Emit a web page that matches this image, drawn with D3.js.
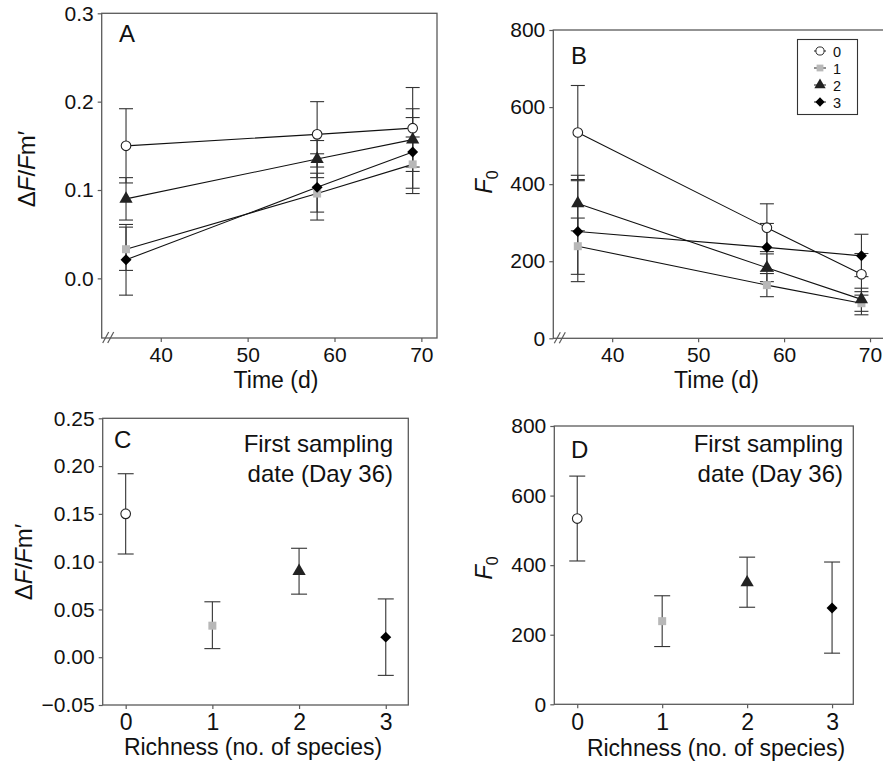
<!DOCTYPE html>
<html>
<head>
<meta charset="utf-8">
<script src="https://cdn.jsdelivr.net/npm/d3@7"></script>
<style>
  body { margin: 0; background: #fff; }
  svg { display: block; font-family: "Liberation Sans", Arial, sans-serif; }
</style>
</head>
<body>
<svg id="chart" width="883" height="768"></svg>
<script>
// sampling days and richness levels (no. of species)
var days = [36, 58, 69];
var richness = [0, 1, 2, 3];

// ΔF/Fm' per richness level, one value per sampling day
var yieldMean = [[0.150, 0.163, 0.170], [0.033, 0.096, 0.129], [0.090, 0.135, 0.157], [0.021, 0.103, 0.143]];
var yieldLo   = [[0.108, 0.126, 0.126], [0.009, 0.075, 0.096], [0.066, 0.114, 0.121], [-0.019, 0.066, 0.102]];
var yieldHi   = [[0.192, 0.200, 0.216], [0.058, 0.119, 0.160], [0.114, 0.156, 0.192], [0.061, 0.141, 0.182]];

// F0 per richness level, one value per sampling day
var f0Mean = [[534, 287, 166], [239, 138, 91], [350, 183, 101], [277, 236, 214]];
var f0Lo   = [[412, 225, 112], [166, 108, 61], [279, 147, 70], [147, 174, 160]];
var f0Hi   = [[656, 349, 220], [312, 168, 121], [423, 219, 130], [409, 298, 270]];

var timeTicks = [40, 50, 60, 70];
var yieldTicksA = [0, 0.1, 0.2, 0.3];
var yieldTicksC = [-0.05, 0, 0.05, 0.10, 0.15, 0.20, 0.25];
var f0Ticks = [0, 200, 400, 600, 800];

var svg = d3.select('#chart');
var AXIS = '#5a5a5a';

function marker(sel, k) {
    if (k === 0) {
        sel.append('circle').attr('r', 4.8).attr('fill', '#fff').attr('stroke', '#222').attr('stroke-width', 1.1);
    } else if (k === 1) {
        sel.append('path').attr('d', d3.symbol(d3.symbolSquare, 64)()).attr('fill', '#b8b8b8');
    } else if (k === 2) {
        sel.append('path').attr('d', d3.symbol(d3.symbolTriangle, 76)()).attr('fill', '#222');
    } else {
        sel.append('path').attr('d', d3.symbol(d3.symbolSquare, 60)()).attr('transform', 'rotate(45)').attr('fill', '#000');
    }
}

function panel(o) {
    var x = d3.scaleLinear().domain(o.xd).range([o.l, o.r]);
    var y = d3.scaleLinear().domain(o.yd).range([o.b, o.t]);
    var g = svg.append('g');

    g.append('rect').attr('x', o.l).attr('y', o.t).attr('width', o.r - o.l).attr('height', o.b - o.t)
        .attr('fill', 'none').attr('stroke', AXIS).attr('stroke-width', 1.3);

    var ax = g.append('g').attr('transform', 'translate(0,' + o.b + ')')
        .call(d3.axisBottom(x).tickValues(o.xt).tickSize(4).tickPadding(5).tickFormat(d3.format('d')));
    ax.select('.domain').remove();
    ax.selectAll('line').attr('stroke', AXIS).attr('stroke-width', 1.2);
    ax.selectAll('text').attr('fill', '#111').attr('font-size', o.xfs + 'px').attr('font-family', null);

    var ay = g.append('g').attr('transform', 'translate(' + o.l + ',0)')
        .call(d3.axisLeft(y).tickValues(o.yt).tickSize(4).tickPadding(4).tickFormat(d3.format(o.yf)));
    ay.select('.domain').remove();
    ay.selectAll('line').attr('stroke', AXIS).attr('stroke-width', 1.2);
    ay.selectAll('text').attr('fill', '#111').attr('font-size', '21px').attr('font-family', null);

    if (o.brk) {
        [0, 5].forEach(function(dx) {
            g.append('line').attr('x1', o.l + 1 + dx).attr('y1', o.b + 5).attr('x2', o.l + 7 + dx).attr('y2', o.b - 6)
                .attr('stroke', AXIS).attr('stroke-width', 1.2);
        });
    }

    g.append('text').attr('x', o.letter[0]).attr('y', o.letter[1]).attr('font-size', '24px').attr('fill', '#111').text(o.name);
    return {g: g, x: x, y: y};
}

function yieldLabel(tx, ty) {
    var t = svg.append('text').attr('transform', 'translate(' + tx + ',' + ty + ') rotate(-90)')
        .attr('text-anchor', 'middle').attr('font-size', '24px').attr('fill', '#111');
    t.append('tspan').text('Δ');
    t.append('tspan').attr('font-style', 'italic').text('F');
    t.append('tspan').text('/');
    t.append('tspan').attr('font-style', 'italic').text('F');
    t.append('tspan').text('m′');
}
function f0Label(tx, ty) {
    var t = svg.append('text').attr('transform', 'translate(' + tx + ',' + ty + ') rotate(-90)')
        .attr('text-anchor', 'middle').attr('font-size', '24px').attr('fill', '#111');
    t.append('tspan').attr('font-style', 'italic').text('F');
    t.append('tspan').attr('font-size', '16px').attr('dy', 6).text('0');
}
function xTitle(tx, ty, s) {
    svg.append('text').attr('x', tx).attr('y', ty).attr('text-anchor', 'middle')
        .attr('font-size', '23px').attr('fill', '#111').text(s);
}

function timePanel(p, mean, lo, hi) {
    var cap = 7;
    richness.forEach(function(r, k) {
        var pts = days.map(function(d, i) { return {x: d, m: mean[k][i], lo: lo[k][i], hi: hi[k][i]}; });
        var eb = p.g.append('g').attr('stroke', '#333').attr('stroke-width', 1.1);
        pts.forEach(function(d) {
            eb.append('line').attr('x1', p.x(d.x)).attr('x2', p.x(d.x)).attr('y1', p.y(d.lo)).attr('y2', p.y(d.hi));
            eb.append('line').attr('x1', p.x(d.x) - cap).attr('x2', p.x(d.x) + cap).attr('y1', p.y(d.lo)).attr('y2', p.y(d.lo));
            eb.append('line').attr('x1', p.x(d.x) - cap).attr('x2', p.x(d.x) + cap).attr('y1', p.y(d.hi)).attr('y2', p.y(d.hi));
        });
    });
    richness.forEach(function(r, k) {
        var pts = days.map(function(d, i) { return {x: d, m: mean[k][i]}; });
        p.g.append('path').datum(pts).attr('fill', 'none').attr('stroke', '#111').attr('stroke-width', 1.1)
            .attr('d', d3.line().x(function(d) { return p.x(d.x); }).y(function(d) { return p.y(d.m); }));
    });
    richness.forEach(function(r, k) {
        days.forEach(function(d, i) {
            var s = p.g.append('g').attr('transform', 'translate(' + p.x(d) + ',' + p.y(mean[k][i]) + ')');
            marker(s, k);
        });
    });
}

function richPanel(p, mean, lo, hi, noteRight) {
    var cap = 8;
    richness.forEach(function(r, k) {
        var eb = p.g.append('g').attr('stroke', '#333').attr('stroke-width', 1.1);
        eb.append('line').attr('x1', p.x(r)).attr('x2', p.x(r)).attr('y1', p.y(lo[k][0])).attr('y2', p.y(hi[k][0]));
        eb.append('line').attr('x1', p.x(r) - cap).attr('x2', p.x(r) + cap).attr('y1', p.y(lo[k][0])).attr('y2', p.y(lo[k][0]));
        eb.append('line').attr('x1', p.x(r) - cap).attr('x2', p.x(r) + cap).attr('y1', p.y(hi[k][0])).attr('y2', p.y(hi[k][0]));
        var s = p.g.append('g').attr('transform', 'translate(' + p.x(r) + ',' + p.y(mean[k][0]) + ')');
        marker(s, k);
    });
    var t = p.g.append('text').attr('text-anchor', 'end').attr('font-size', '24px').attr('fill', '#111');
    t.append('tspan').attr('x', noteRight).attr('y', 452).text('First sampling');
    t.append('tspan').attr('x', noteRight).attr('dy', 30).text('date (Day 36)');
}

// A
var pA = panel({l: 101.7, t: 13.3, r: 437, b: 338, xd: [33.2, 71.8], yd: [-0.0675, 0.3],
    xt: timeTicks, yt: yieldTicksA, yf: '.1f', xfs: 21, brk: true, name: 'A', letter: [119, 42]});
timePanel(pA, yieldMean, yieldLo, yieldHi);
yieldLabel(35, 169);
xTitle(276, 388, 'Time (d)');

// B
var pB = panel({l: 553.3, t: 30, r: 885.5, b: 338.3, xd: [33.15, 71.8], yd: [0, 800],
    xt: timeTicks, yt: f0Ticks, yf: 'd', xfs: 21, brk: true, name: 'B', letter: [571, 64]});
timePanel(pB, f0Mean, f0Lo, f0Hi);
f0Label(492, 182);
xTitle(716.5, 388, 'Time (d)');

// legend in B
var lg = pB.g.append('g');
lg.append('rect').attr('x', 797.5).attr('y', 39.5).attr('width', 60).attr('height', 75)
    .attr('fill', '#fff').attr('stroke', '#333').attr('stroke-width', 1.1);
richness.forEach(function(r, k) {
    var yy = 51 + k * 17;
    lg.append('line').attr('x1', 814).attr('x2', 826).attr('y1', yy).attr('y2', yy).attr('stroke', '#333').attr('stroke-width', 1.1);
    var s = lg.append('g').attr('transform', 'translate(820,' + yy + ') scale(0.85)');
    marker(s, k);
    lg.append('text').attr('x', 833).attr('y', yy + 5.5).attr('font-size', '14.5px').attr('fill', '#111').text(r);
});

// C
var pC = panel({l: 102.7, t: 418.3, r: 408.3, b: 705, xd: [-0.265, 3.26], yd: [-0.05, 0.25],
    xt: richness, yt: yieldTicksC, yf: '.2f', xfs: 23, brk: false, name: 'C', letter: [114, 448]});
richPanel(pC, yieldMean, yieldLo, yieldHi, 393);
yieldLabel(32, 562);
xTitle(253, 755, 'Richness (no. of species)');

// D
var pD = panel({l: 554.3, t: 426, r: 853.3, b: 704.3, xd: [-0.27, 3.25], yd: [0, 800],
    xt: richness, yt: f0Ticks, yf: 'd', xfs: 23, brk: false, name: 'D', letter: [571, 458]});
richPanel(pD, f0Mean, f0Lo, f0Hi, 843);
f0Label(492, 568);
xTitle(716, 756, 'Richness (no. of species)');
</script>
</body>
</html>
